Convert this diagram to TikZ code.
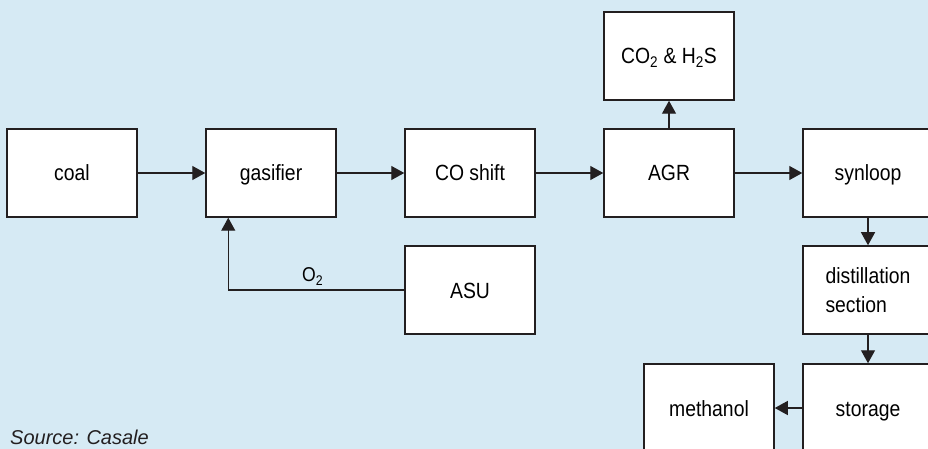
\documentclass[tikz,border=0pt]{standalone}
\usepackage{fontspec}
\setmainfont{Liberation Sans}[FakeStretch=0.88]
\newfontfamily\srcfont{Liberation Sans}
\usetikzlibrary{arrows.meta}

\definecolor{bgblue}{RGB}{214,234,244}
\definecolor{boxline}{RGB}{35,31,32}

\tikzstyle{custbox} = [rectangle, minimum width=130bp, minimum height=88bp, inner sep=0pt, text centered, draw=boxline, line width=1.5bp, fill=white, font=\fontsize{22bp}{29bp}\selectfont]
\tikzstyle{procblock} = [custbox, text height=16bp, text depth=0pt]
\tikzstyle{flow} = [-{Triangle[length=13bp,width=14bp]}, line width=1.3bp, draw=boxline]

\begin{document}
\begin{tikzpicture}[x=1bp, y=1bp, node distance=199bp]
\useasboundingbox (0,0) rectangle (928,-449);
\fill[bgblue] (0,0) rectangle (928,-449);
\clip (0,0) rectangle (928,-449);

%Process blocks
\node (coal) [procblock] at (72,-173) {coal};
\node (gasifier) [procblock,right of=coal] {gasifier};
\node (coshift) [procblock,right of=gasifier] {CO shift};
\node (agr) [procblock,right of=coshift] {AGR};
\node (synloop) [procblock,right of=agr] {synloop};
\node (acidgas) [procblock,above of=agr,yshift=-82bp] {CO\textsubscript{2} \& H\textsubscript{2}S};
\node (asu) [procblock,below of=coshift,yshift=82bp] {ASU};
\node (distil) [custbox,below of=synloop,yshift=82bp,align=left] {distillation\\section};
\node (storage) [procblock,below of=distil,yshift=81bp] {storage};
\node (methanol) [procblock,left of=storage,xshift=40bp] {methanol};

%Source note
\node (source) [anchor=base west, inner sep=0pt, font=\srcfont\itshape\fontsize{20bp}{24bp}\selectfont, text=boxline] at (10,-444) {Source: Casale};

%Arrows
\draw [flow] (coal) -- (gasifier);
\draw [flow] (gasifier) -- (coshift);
\draw [flow] (coshift) -- (agr);
\draw [flow] (agr) -- (synloop);
\draw [flow] (agr) -- (acidgas);
\draw [flow] (synloop) -- (distil);
\draw [flow] (distil) -- (storage);
\draw [flow] (storage) -- (methanol);
\draw [flow] (asu.west) -| node [pos=0.26, above=1bp, font=\fontsize{20bp}{24bp}\selectfont] {O\textsubscript{2}} ([xshift=23bp]gasifier.south west);
\end{tikzpicture}
\end{document}
